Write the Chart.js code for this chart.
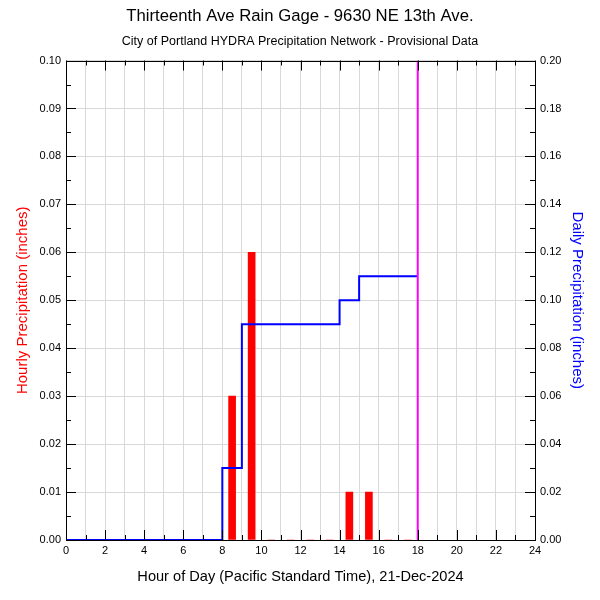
<!DOCTYPE html>
<html lang="en">
<head>
<meta charset="UTF-8">
<title>Thirteenth Ave Rain Gage</title>
<script src="https://cdn.jsdelivr.net/npm/chart.js@4.4.1/dist/chart.umd.min.js"></script>
<style>
  html, body { margin:0; padding:0; background:#fff; }
  #wrap { width:600px; height:600px; }
</style>
</head>
<body>
<div id="wrap"><canvas id="rain" width="600" height="600"></canvas></div>
<script>
// hourly rain (inches) for hours 0..17, bar drawn at middle of the hour
const hours = [0,1,2,3,4,5,6,7,8,9,10,11,12,13,14,15,16,17];
const hourlyRain = [0,0,0,0,0,0,0,0,0.03,0.06,0,0,0,0,0.01,0.01,0,0];
// running daily total at each hour mark 0..18
const dailyHours = [0,1,2,3,4,5,6,7,8,9,10,11,12,13,14,15,16,17,18];
const dailyTotal = [0,0,0,0,0,0,0,0,0.03,0.09,0.09,0.09,0.09,0.09,0.10,0.11,0.11,0.11,0.11];
const nowHour = 18;
const titleText = "Thirteenth Ave Rain Gage - 9630 NE 13th Ave.";
const subText = "City of Portland HYDRA Precipitation Network - Provisional Data";
const xTitle = "Hour of Day (Pacific Standard Time), 21-Dec-2024";

const FONT = '"Liberation Sans", Arial, Helvetica, sans-serif';
const gridCol = '#d9d9d9';

// ticks pointing into the plot + black frame
const frameTicks = {
  id: 'frameTicks',
  afterDraw(chart) {
    const c = chart.ctx, a = chart.chartArea;
    const x = chart.scales.x, y = chart.scales.y, y2 = chart.scales.y2;
    c.save();
    c.strokeStyle = '#000';
    c.lineWidth = 1;
    c.beginPath();
    for (let h = 0; h <= 24; h++) {
      const px = Math.round(x.getPixelForValue(h)) + 0.5;
      const len = h % 2 === 0 ? 10 : 5;
      c.moveTo(px, a.bottom); c.lineTo(px, a.bottom - len);
      c.moveTo(px, a.top); c.lineTo(px, a.top + len);
    }
    for (let i = 0; i <= 20; i++) {
      const py = Math.round(y.getPixelForValue(i * 0.005)) + 0.5;
      const len = i % 2 === 0 ? 10 : 5;
      c.moveTo(a.left, py); c.lineTo(a.left + len, py);
    }
    for (let i = 0; i <= 20; i++) {
      const py = Math.round(y2.getPixelForValue(i * 0.01)) + 0.5;
      const len = i % 2 === 0 ? 10 : 5;
      c.moveTo(a.right, py); c.lineTo(a.right - len, py);
    }
    c.stroke();
    c.strokeRect(Math.round(a.left) + 0.5, Math.round(a.top) + 0.5,
                 Math.round(a.right - a.left), Math.round(a.bottom - a.top));
    c.restore();
  }
};

const tickFont = { family: FONT, size: 11 };
const titleFont = { family: FONT, size: 15 };

new Chart(document.getElementById('rain'), {
  type: 'bar',
  data: {
    datasets: [
      {
        type: 'line',
        data: [{x: nowHour, y: 0}, {x: nowHour, y: 0.1}],
        borderColor: '#ff00ff',
        borderWidth: 2,
        pointRadius: 0,
        yAxisID: 'y',
        order: 0
      },
      {
        type: 'line',
        data: dailyHours.map((h, i) => ({x: h, y: dailyTotal[i]})),
        borderColor: '#0000ff',
        borderWidth: 2,
        pointRadius: 0,
        stepped: true,
        yAxisID: 'y2',
        order: 1
      },
      {
        type: 'bar',
        data: hours.map((h, i) => ({x: h + 0.5, y: hourlyRain[i]})),
        backgroundColor: '#ff0000',
        borderWidth: 0,
        barThickness: 7,
        yAxisID: 'y',
        order: 2
      }
    ]
  },
  options: {
    responsive: false,
    animation: false,
    layout: { padding: 0 },
    plugins: {
      legend: { display: false },
      tooltip: { enabled: false },
      title: {
        display: true, text: titleText, color: '#000',
        font: { family: FONT, size: 16.7, weight: 'normal' },
        padding: { top: 6, bottom: 8 }
      },
      subtitle: {
        display: true, text: subText, color: '#000',
        font: { family: FONT, size: 12.5, weight: 'normal' },
        padding: { top: 0, bottom: 11.5 }
      }
    },
    scales: {
      x: {
        type: 'linear', min: 0, max: 24, offset: false,
        grid: { color: gridCol, drawTicks: false, offset: false },
        border: { display: false },
        ticks: {
          stepSize: 1, autoSkip: false, maxRotation: 0, padding: 4,
          color: '#000', font: tickFont,
          callback: v => (v % 2 === 0 ? v : '')
        },
        title: { display: true, text: xTitle, color: '#000', font: { family: FONT, size: 14.6 }, padding: { top: 0, bottom: 14 } },
        afterFit: s => { s.height = 60; }
      },
      y: {
        position: 'left', min: 0, max: 0.1,
        grid: { color: gridCol, drawTicks: false },
        border: { display: false },
        ticks: { stepSize: 0.01, padding: 5, color: '#000', font: tickFont, callback: v => v.toFixed(2) },
        title: { display: true, text: 'Hourly Precipitation (inches)', color: '#ff0000', font: titleFont, padding: { top: 14 } },
        afterFit: s => { s.width = 66; }
      },
      y2: {
        position: 'right', min: 0, max: 0.2,
        grid: { display: false, drawTicks: false },
        border: { display: false },
        ticks: { stepSize: 0.02, padding: 5, color: '#000', font: tickFont, callback: v => v.toFixed(2) },
        title: { display: true, text: 'Daily Precipitation (inches)', color: '#0000ff', font: titleFont, padding: { top: 14 } },
        afterFit: s => { s.width = 65; }
      }
    }
  },
  plugins: [frameTicks]
});
</script>
</body>
</html>
